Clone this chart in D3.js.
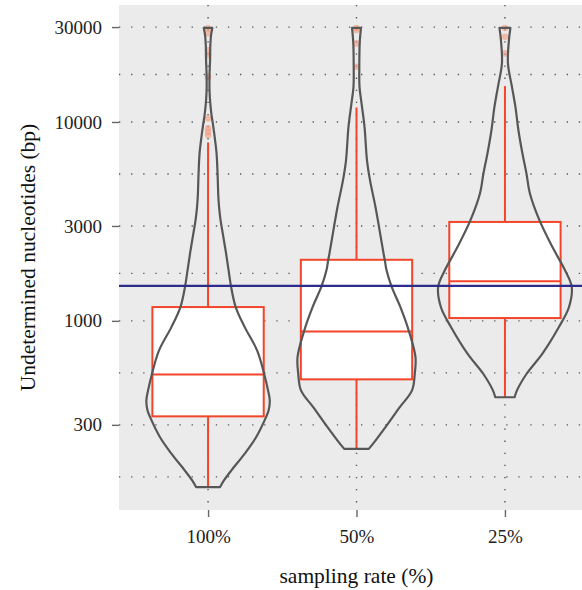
<!DOCTYPE html>
<html>
<head>
<meta charset="utf-8">
<script src="https://cdn.jsdelivr.net/npm/d3@7"></script>
<style>
  body { margin: 0; background: #fff; }
  text { font-family: 'Liberation Serif', 'DejaVu Serif', serif; }
</style>
</head>
<body>
<svg id="chart" width="582" height="590"></svg>
<script>
// sampling rates on the x axis
const groups = ['100%', '50%', '25%']

// violin outlines: [undetermined bp, relative density]
const violin100 = [[29700, 0.064], [27340, 0.045], [24350, 0.034], [20460, 0.03], [17200, 0.022], [14450, 0.022], [12430, 0.033], [10820, 0.052], [9640, 0.075], [8100, 0.105], [6970, 0.127], [5530, 0.142], [4280, 0.153], [3730, 0.165], [3210, 0.187], [2690, 0.225], [2190, 0.269], [1800, 0.307], [1490, 0.344], [1170, 0.415], [930, 0.549], [710, 0.734], [544, 0.838], [447, 0.898], [398, 0.924], [354, 0.906], [328, 0.868], [260, 0.719], [215, 0.549], [177, 0.349], [158, 0.24], [146, 0.18]]
const violin50 = [[29700, 0.067], [24920, 0.048], [18940, 0.042], [15020, 0.045], [12430, 0.075], [9450, 0.12], [6420, 0.157], [5100, 0.202], [3740, 0.284], [2970, 0.337], [2190, 0.404], [2020, 0.424], [1800, 0.449], [1490, 0.524], [1170, 0.659], [886, 0.786], [657, 0.883], [544, 0.873], [447, 0.831], [368, 0.648], [292, 0.434], [250, 0.284], [227, 0.184]]
const violin25 = [[29700, 0.082], [25800, 0.06], [19700, 0.045], [15020, 0.105], [11910, 0.157], [9090, 0.202], [6940, 0.262], [5510, 0.322], [4370, 0.374], [3210, 0.516], [2350, 0.711], [1800, 0.898], [1480, 1.0], [1170, 0.958], [931, 0.808], [684, 0.561], [542, 0.325], [447, 0.18], [413, 0.145]]
const violins = [violin100, violin50, violin25]

// box plot stats per group
const whiskerLow = [146, 227, 413]
const q1 = [331, 508, 1033]
const median = [538, 885, 1581]
const q3 = [1173, 2028, 3143]
const whiskerHigh = [7890, 11830, 15150]
const outliers = [
  [29550, 27880, 22980, 21690, 16870, 10410, 9307, 8917, 8582],
  [29700, 28970, 24830, 18940],
  [29700, 26820, 22120]
]

const refLine = 1500
const yTicks = [300, 1000, 3000, 10000, 30000]

const panel = { x: 119, y: 5, w: 475, h: 505 }

const boxColor = '#f2452a'
const violinColor = '#575757'
const gridColor = '#555'

const svg = d3.select('#chart')

// scales
const x =
  d3.scalePoint()
    .domain(groups)
    .range([panel.x, panel.x + panel.w])
    .padding(0.6)

const allValues = violins.flat().map(d => d[0]).concat(outliers.flat())
const lo = Math.log10(d3.min(allValues))
const hi = Math.log10(d3.max(allValues))
const pad = (hi - lo) * 0.05
const y =
  d3.scaleLog()
    .domain([10 ** (lo - pad), 10 ** (hi + pad)])
    .range([panel.y + panel.h, panel.y])

const maxDensity = d3.max(violins.flat(), d => d[1])
const w =
  d3.scaleLinear()
    .domain([0, maxDensity])
    .range([0, x.step() * 0.45])

// panel background
svg.append('rect')
  .attr('x', panel.x)
  .attr('y', panel.y)
  .attr('width', panel.w)
  .attr('height', panel.h)
  .attr('fill', '#ebebeb')

// grid: majors plus midpoints in log space (ggplot style minor breaks)
const majors = yTicks.map(Math.log10)
const step = majors[1] - majors[0]
const [dLo, dHi] = y.domain().map(Math.log10)
const ext = majors.slice()
if (dLo < ext[0]) ext.unshift(ext[0] - step)
if (dHi > ext[ext.length - 1]) ext.push(ext[ext.length - 1] + step)
const gridLogs = []
for (let i = 0; i < ext.length - 1; i++) {
  gridLogs.push(ext[i], (ext[i] + ext[i + 1]) / 2)
}
gridLogs.push(ext[ext.length - 1])
const gridVals = gridLogs.filter(l => l >= dLo && l <= dHi).map(l => 10 ** l)

const grid = svg.append('g').attr('class', 'grid')

grid.selectAll('.hgrid')
  .data(gridVals)
  .enter()
  .append('line')
    .attr('class', 'hgrid')
    .attr('x1', panel.x)
    .attr('x2', panel.x + panel.w)
    .attr('y1', d => y(d))
    .attr('y2', d => y(d))
    .attr('stroke', gridColor)
    .attr('stroke-width', 1.4)
    .attr('stroke-dasharray', '1.3 10.8')

grid.selectAll('.vgrid')
  .data(groups)
  .enter()
  .append('line')
    .attr('class', 'vgrid')
    .attr('x1', d => x(d))
    .attr('x2', d => x(d))
    .attr('y1', panel.y)
    .attr('y2', panel.y + panel.h)
    .attr('stroke', gridColor)
    .attr('stroke-width', 1.4)
    .attr('stroke-dasharray', '1.3 10.8')

// boxes
const boxW = x.step() * 0.75
const boxes =
  svg.selectAll('.box')
    .data(groups)
    .enter()
    .append('g')
      .attr('class', 'box')

boxes.append('line')
  .attr('x1', d => x(d))
  .attr('x2', d => x(d))
  .attr('y1', (d, i) => y(whiskerLow[i]))
  .attr('y2', (d, i) => y(q1[i]))
  .attr('stroke', boxColor)
  .attr('stroke-width', 2)

boxes.append('line')
  .attr('x1', d => x(d))
  .attr('x2', d => x(d))
  .attr('y1', (d, i) => y(whiskerHigh[i]))
  .attr('y2', (d, i) => y(q3[i]))
  .attr('stroke', boxColor)
  .attr('stroke-width', 2)

boxes.append('rect')
  .attr('x', d => x(d) - boxW / 2)
  .attr('width', boxW)
  .attr('y', (d, i) => y(q3[i]))
  .attr('height', (d, i) => y(q1[i]) - y(q3[i]))
  .attr('fill', '#fff')
  .attr('stroke', boxColor)
  .attr('stroke-width', 2)

boxes.append('line')
  .attr('x1', d => x(d) - boxW / 2)
  .attr('x2', d => x(d) + boxW / 2)
  .attr('y1', (d, i) => y(median[i]))
  .attr('y2', (d, i) => y(median[i]))
  .attr('stroke', boxColor)
  .attr('stroke-width', 2)

boxes.each(function (g, i) {
  d3.select(this)
    .selectAll('circle')
    .data(outliers[i])
    .enter()
    .append('circle')
      .attr('cx', x(g))
      .attr('cy', d => y(d))
      .attr('r', 3.3)
      .attr('fill', '#f29a7a')
      .attr('fill-opacity', 0.6)
})

// violins
violins.forEach((v, i) => {
  const cx = x(groups[i])
  const area =
    d3.area()
      .y(d => y(d[0]))
      .x0(d => cx - w(d[1]))
      .x1(d => cx + w(d[1]))
      .curve(d3.curveCatmullRom)

  svg.append('path')
    .datum(v)
    .attr('class', 'violin')
    .attr('d', area)
    .attr('fill', 'none')
    .attr('stroke', violinColor)
    .attr('stroke-width', 2.2)
    .attr('stroke-linejoin', 'round')
})

// reference line
svg.append('line')
  .attr('x1', panel.x)
  .attr('x2', panel.x + panel.w)
  .attr('y1', y(refLine))
  .attr('y2', y(refLine))
  .attr('stroke', '#2f2b8c')
  .attr('stroke-width', 2.4)

// axes
const yAxis =
  d3.axisLeft(y)
    .tickValues(yTicks)
    .tickFormat(d3.format('d'))
    .tickSize(7)
    .tickPadding(10)

const xAxis =
  d3.axisBottom(x)
    .tickSize(7)
    .tickPadding(13)

const gy = svg.append('g')
  .attr('transform', `translate(${panel.x}, 0)`)
  .call(yAxis)

const gx = svg.append('g')
  .attr('transform', `translate(0, ${panel.y + panel.h})`)
  .call(xAxis)

;[gx, gy].forEach(g => {
  g.select('.domain').remove()
  g.selectAll('.tick line').attr('stroke', '#666').attr('stroke-width', 1.4)
  g.selectAll('.tick text')
    .attr('fill', '#222')
    .style('font-size', '19px')
    .style('font-family', "'Liberation Serif', serif")
})

svg.append('text')
  .attr('transform', `translate(27, ${panel.y + panel.h / 2}) rotate(-90)`)
  .attr('text-anchor', 'middle')
  .attr('dy', '0.35em')
  .style('font-size', '21.5px')
  .attr('fill', '#111')
  .text('Undetermined nucleotides (bp)')

svg.append('text')
  .attr('x', panel.x + panel.w / 2)
  .attr('y', 583)
  .attr('text-anchor', 'middle')
  .style('font-size', '21.5px')
  .attr('fill', '#111')
  .text('sampling rate (%)')
</script>
</body>
</html>
